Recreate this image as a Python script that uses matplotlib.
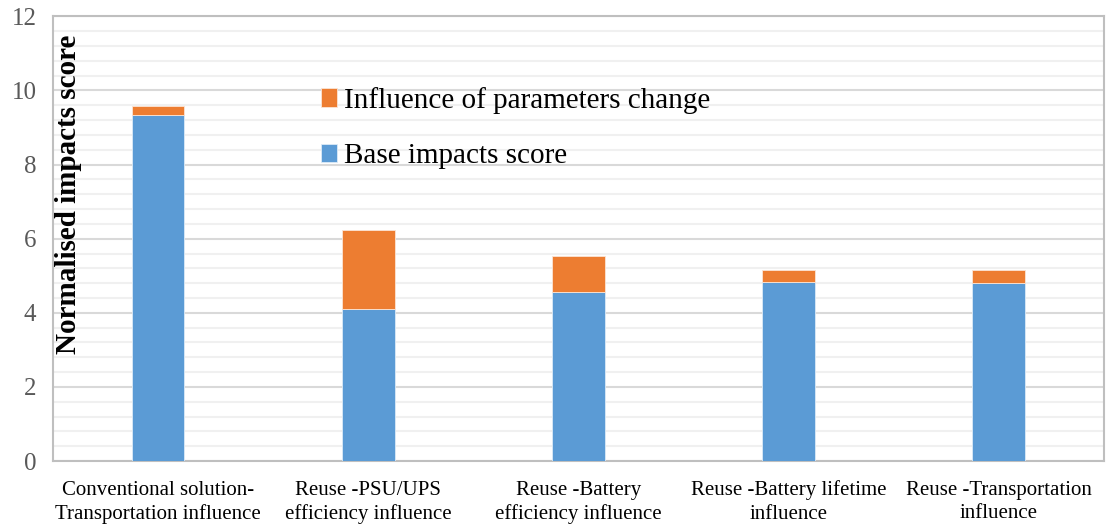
import matplotlib
matplotlib.use("Agg")
import matplotlib.pyplot as plt
import numpy as np
from matplotlib.ticker import MultipleLocator

categories = [
    "Conventional solution-\nTransportation influence",
    "Reuse -PSU/UPS\nefficiency influence",
    "Reuse -Battery\nefficiency influence",
    "Reuse -Battery lifetime\ninfluence",
    "Reuse -Transportation\ninfluence",
]
base_scores = [9.33, 4.10, 4.56, 4.83, 4.80]
param_change = [0.25, 2.13, 0.97, 0.32, 0.35]

BLUE = "#5B9BD5"
ORANGE = "#ED7D31"
GRID = "#D9D9D9"

plt.rcParams["font.family"] = ["Liberation Serif", "DejaVu Serif"]

fig = plt.figure(figsize=(11.07, 5.24), dpi=100)
ax = fig.add_axes([0.048, 0.12, 0.949, 0.849])

x = np.arange(len(categories))
width = 0.25
ax.bar(x, base_scores, width, color=BLUE, edgecolor="#DDEBF7", linewidth=0.6,
       label="Base impacts score", zorder=3)
ax.bar(x, param_change, width, bottom=base_scores, color=ORANGE, edgecolor="#FBE5D6",
       linewidth=0.6, label="Influence of parameters change", zorder=3)

ax.set_xlim(-0.5, len(categories) - 0.5)
ax.set_ylim(0, 12)
ax.yaxis.set_major_locator(MultipleLocator(2))
ax.yaxis.set_minor_locator(MultipleLocator(0.4))
ax.grid(True, which="major", axis="y", color=GRID, linewidth=1.5, zorder=0)
ax.grid(True, which="minor", axis="y", color="#F0F0F0", linewidth=1.5, zorder=0)
ax.set_axisbelow(True)

ax.set_xticks(x)
ax.set_xticklabels(categories, fontsize=15, color="black", linespacing=1.3)
ax.tick_params(axis="x", length=0, pad=14)
ax.tick_params(axis="y", which="both", length=0, labelsize=18, labelcolor="#595959", pad=12)

for side in ["left", "right", "top", "bottom"]:
    ax.spines[side].set_color("#BFBFBF")
    ax.spines[side].set_linewidth(1.5)

ax.text(0.002, 0.6, "Normalised impacts score", transform=ax.transAxes, rotation=90,
        fontsize=21, fontweight="bold", ha="left", va="center")

# legend order as in the source: orange entry on top
handles, labels = ax.get_legend_handles_labels()
ax.legend(handles[::-1], labels[::-1], loc="upper left", bbox_to_anchor=(0.23, 0.9),
          frameon=False, fontsize=21, handlelength=0.55, handleheight=0.6,
          handletextpad=0.25, labelspacing=1.0)

fig.savefig("out.png", dpi=100)
